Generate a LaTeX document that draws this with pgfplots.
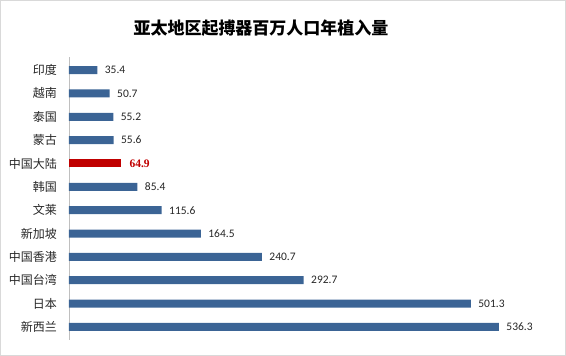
\documentclass[border=0pt]{standalone}
\usepackage{fontspec}
\setmainfont{Noto Sans CJK SC}
\newfontfamily\carlito{Carlito}
\newfontfamily\tnr{Liberation Serif}
\usepackage{pgfplots}
\pgfplotsset{compat=1.18}
\definecolor{barblue}{HTML}{3B6495}
\definecolor{barred}{HTML}{C00000}
\begin{document}
\begin{tikzpicture}[x=1pt,y=1pt]
\draw[color=black!15, line width=1pt] (0.5,0.5) rectangle (565.5,355.5);
\node[font=\fontsize{17}{19}\selectfont\bfseries] at (261,328) {亚太地区起搏器百万人口年植入量};
\begin{axis}[at={(69pt,16pt)}, anchor=south west, scale only axis, width=481pt, height=283pt,
  xmin=0, xmax=600, ymin=-0.56, ymax=11.56, y dir=reverse,
  xbar, bar width=8pt, bar shift=0pt,
  axis x line=none, axis y line=left, axis line style={-, draw=black!25, line width=0.8pt},
  ytick={0,...,11}, major tick length=0pt,
  yticklabels={印度,越南,泰国,蒙古,中国大陆,韩国,文莱,新加坡,中国香港,中国台湾,日本,新西兰},
  yticklabel style={font=\fontsize{12}{14}\selectfont, text=black!85, inner sep=0pt, xshift=-12pt},
  /pgf/number format/assume math mode=true,
  /pgf/number format/.cd, fixed, precision=1, fixed zerofill, 1000 sep={}, /tikz/.cd,
  clip=false]
\addplot[fill=barblue, draw=none, nodes near coords, point meta=x,
  nodes near coords style={font=\carlito\fontsize{11.5}{12}\selectfont, text=black!85, anchor=west, xshift=4pt}]
  coordinates {(35.4,0) (50.7,1) (55.2,2) (55.6,3) (85.4,5) (115.6,6) (164.5,7) (240.7,8) (292.7,9) (501.3,10) (536.3,11)};
\addplot[fill=barred, draw=none, nodes near coords, point meta=x,
  nodes near coords style={font=\tnr\bfseries\fontsize{11.5}{12}\selectfont, text=barred, anchor=west, xshift=5pt}]
  coordinates {(64.9,4)};
\end{axis}
\end{tikzpicture}
\end{document}
